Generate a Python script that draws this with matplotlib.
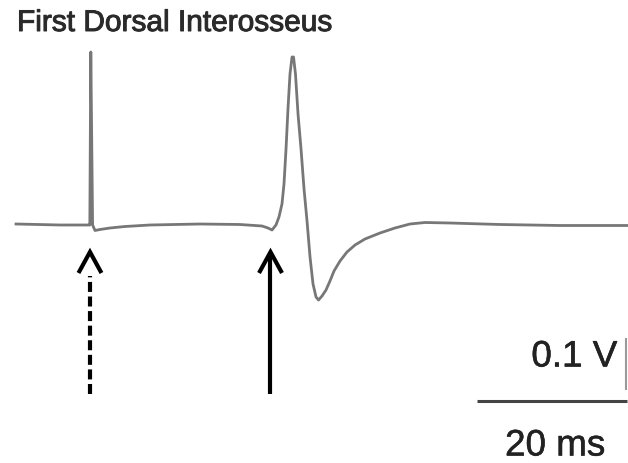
import matplotlib
matplotlib.use("Agg")
import matplotlib.pyplot as plt
import matplotlib.patheffects as pe
import numpy as np

# M-wave trace, time in ms (0 = stimulus), amplitude in mV
time_ms = [-10.13, -4.27, -0.53, -0.29, -0.16, 0.08, 0.40, 1.07, 2.40, 4.40,
           7.73, 14.40, 19.73, 22.67, 23.47, 24.00, 24.53, 24.93, 25.33, 25.60,
           25.87, 26.13, 26.40, 26.67, 26.87, 27.13, 27.47, 27.87, 28.27, 28.67,
           29.07, 29.47, 29.87, 30.20, 30.67, 31.20, 31.73, 32.27, 33.07, 34.00,
           35.07, 36.40, 38.40, 40.40, 42.40, 44.40, 47.70, 54.40, 62.40, 71.50]
emg_mv = [0, -2, -2, -2, 344, -2, -13, -11, -8, -5,
          -2, 0, -1, -4, -8, -12, -2, 14, 40, 80,
          150, 230, 300, 334, 334, 300, 220, 150, 70, 6,
          -66, -120, -146, -152, -144, -132, -114, -94, -74, -56,
          -42, -30, -18, -8, 0, 3, 2, -1, -3, -3]

stim_time = -0.27     # dashed arrow: stimulus
onset_time = 23.8     # solid arrow: response onset

scale_t = 20    # ms
scale_v = 100   # mV (0.1 V)

# pixel mapping of the original figure
ms_per_px = 1 / 7.5
mv_per_px = 2.0
x0_px, base_px = 92, 225

fig = plt.figure(figsize=(6.28, 4.64), dpi=100)
ax = fig.add_axes([0, 0, 1, 1])
ax.set_xlim((0 - x0_px) * ms_per_px, (628 - x0_px) * ms_per_px)
ax.set_ylim((base_px - 464) * mv_per_px, (base_px - 0) * mv_per_px)
ax.axis("off")

ax.plot(time_ms, emg_mv, color="#777777", lw=2.0, solid_joinstyle="round")

# arrows
tip_v = (base_px - 253) * mv_per_px
arm_v = (base_px - 274) * mv_per_px
bot_v = (base_px - 395) * mv_per_px
arm_dt = 11.5 * ms_per_px
for t, ls in [(stim_time, (0, (2.4, 1.1))), (onset_time, "-")]:
    start = arm_v - 6 if ls != "-" else tip_v - 2
    ax.plot([t, t], [bot_v, start], color="black", lw=3.0, linestyle=ls,
            solid_capstyle="butt", dash_capstyle="butt")
    ax.plot([t - arm_dt, t, t + arm_dt], [arm_v, tip_v, arm_v], color="black",
            lw=3.0, solid_joinstyle="miter", solid_capstyle="butt")

# scale bars
bar_v = (base_px - 402) * mv_per_px
bar_t0 = (477 - x0_px) * ms_per_px
ax.plot([bar_t0, bar_t0 + scale_t], [bar_v, bar_v], color="#444444", lw=2.2,
        solid_capstyle="butt")
vbar_t = (626.5 - x0_px) * ms_per_px
vbar_top = (base_px - 340) * mv_per_px
ax.plot([vbar_t, vbar_t], [vbar_top, vbar_top - scale_v], color="#9a9a9a", lw=1.5)

font = ["Liberation Sans", "DejaVu Sans"]
thick = [pe.withStroke(linewidth=0.4, foreground="#222222")]
ax.text((617 - x0_px) * ms_per_px, (base_px - 358) * mv_per_px, "0.1 V",
        ha="right", va="center", fontsize=26.5, color="#222222", family=font,
        path_effects=thick)
ax.text((555 - x0_px) * ms_per_px, (base_px - 447) * mv_per_px, "20 ms",
        ha="center", va="center", fontsize=26.5, color="#222222", family=font,
        path_effects=thick)
ax.text((17 - x0_px) * ms_per_px, (base_px - 24) * mv_per_px, "First Dorsal Interosseus",
        ha="left", va="center", fontsize=21.5, color="#2a2a2a", family=font,
        path_effects=[pe.withStroke(linewidth=0.7, foreground="#2a2a2a")])

plt.savefig("out.png", dpi=100)
plt.close()
